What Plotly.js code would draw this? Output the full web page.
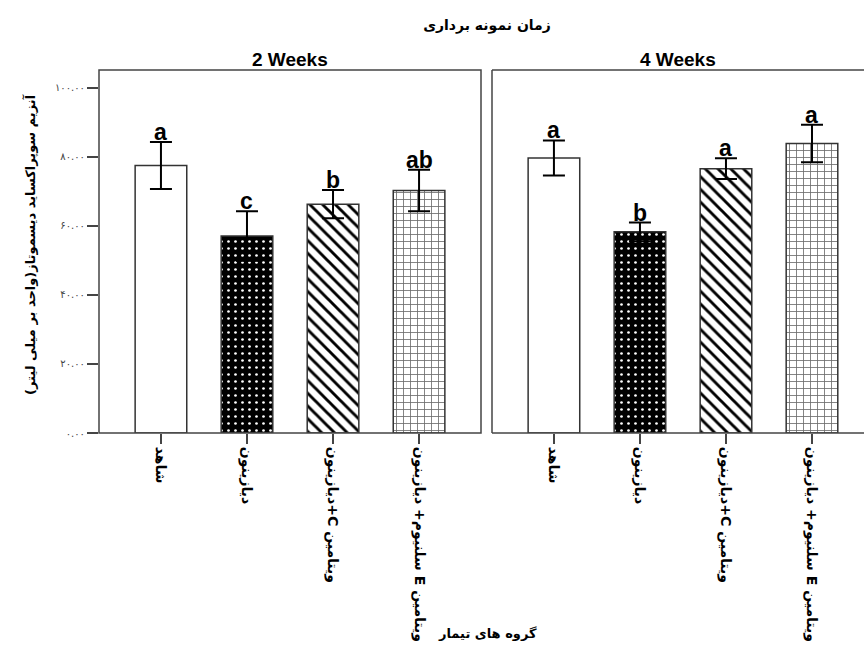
<!DOCTYPE html>
<html>
<head>
<meta charset="utf-8">
<script src="https://cdn.plot.ly/plotly-3.0.1.min.js"></script>
<style>html,body{margin:0;padding:0;background:#fff;overflow:hidden;}#chart{width:864px;height:648px;}#edge{position:absolute;left:858px;top:73px;width:6px;height:358px;background:#fff;pointer-events:none;}</style>
</head>
<body>
<div id="chart"></div>
<div id="edge"></div>
<script>
// ---- data ----
const categories = ['شاهد', 'دیازینون', 'ویتامین C+دیازینون', 'ویتامین E سلنیوم+ دیازینون'];
const week2Means = [77.5, 57.1, 66.3, 70.3];
const week2Errors = [6.8, 7.2, 4.1, 6.0];
const week2Letters = ['a', 'c', 'b', 'ab'];
const week4Means = [79.7, 58.3, 76.6, 83.9];
const week4Errors = [5.1, 2.7, 3.0, 5.4];
const week4Letters = ['a', 'b', 'a', 'a'];
const yTickValues = [0, 20, 40, 60, 80, 100];
const yTickLabels = ['۰.۰۰', '۲۰.۰۰', '۴۰.۰۰', '۶۰.۰۰', '۸۰.۰۰', '۱۰۰.۰۰'];
const panelTitles = ['2 Weeks', '4 Weeks'];
const mainTitle = 'زمان نمونه برداری';
const xTitle = 'گروه های تیمار';
const yTitle = 'آنزیم سوپراکساید دیسموتاز(واحد بر میلی لیتر)';

// ---- styles ----
const RLE = '\u202B', PDF = '\u202C';
const rtl = s => RLE + s + PDF;
const faFont = 'DejaVu Sans, Liberation Sans, sans-serif';
const latFont = 'Liberation Sans, Arial, sans-serif';
const pattern = {
  shape: ['', '.', '\\', '+'],
  fgcolor: ['#ffffff', '#ffffff', '#000000', '#6a6a6a'],
  bgcolor: ['#ffffff', '#000000', '#ffffff', '#ffffff'],
  size: [8, 7, 9, 7],
  solidity: [0.3, 0.12, 0.32, 0.22],
  fillmode: 'replace'
};
const lineColor = '#444444';

function barTrace(means, errs, xa, ya) {
  return {
    type: 'bar', x: categories, y: means, xaxis: xa, yaxis: ya,
    width: 0.6,
    marker: { color: '#ffffff', line: { color: '#333333', width: 1.5 }, pattern: pattern },
    error_y: { type: 'data', array: errs, visible: true, color: '#000000', thickness: 2, width: 11 },
    showlegend: false, hoverinfo: 'skip'
  };
}

const traces = [
  barTrace(week2Means, week2Errors, 'x', 'y'),
  barTrace(week4Means, week4Errors, 'x2', 'y2')
];

// geometry (pixels)
const W = 864, H = 648, mL = 99, mR = 0, mT = 70, mB = 215;
const pw = W - mL - mR, ph = H - mT - mB;
const d1 = [0, (481 - mL) / pw];
const d2 = [(492 - mL) / pw, 1];

const annotations = [];
function letterAnn(means, errs, letters, xr, yr) {
  means.forEach((m, i) => {
    annotations.push({
      x: categories[i], y: m + errs[i], xref: xr, yref: yr,
      text: letters[i], showarrow: false, xanchor: 'center', yanchor: 'bottom', yshift: -5,
      font: { family: latFont, size: 23, color: '#000', weight: 'bold' }
    });
  });
}
letterAnn(week2Means, week2Errors, week2Letters, 'x', 'y');
letterAnn(week4Means, week4Errors, week4Letters, 'x2', 'y2');

const titleY = (mT + ph - 60) / ph;
annotations.push({
  x: (d1[0] + d1[1]) / 2, y: titleY, xref: 'paper', yref: 'paper', xanchor: 'center', yanchor: 'middle',
  text: '<b>' + panelTitles[0] + '</b>', showarrow: false,
  font: { family: latFont, size: 19, color: '#000' }
});
annotations.push({
  x: (d2[0] + d2[1]) / 2, y: titleY, xref: 'paper', yref: 'paper', xanchor: 'center', yanchor: 'middle',
  text: '<b>' + panelTitles[1] + '</b>', showarrow: false,
  font: { family: latFont, size: 19, color: '#000' }
});
annotations.push({
  x: (487 - mL) / pw, y: (mT + ph - 633) / ph, xref: 'paper', yref: 'paper', xanchor: 'center', yanchor: 'middle',
  text: '<b>' + rtl(xTitle) + '</b>', showarrow: false,
  font: { family: faFont, size: 13, color: '#000' }
});
annotations.push({
  x: (30 - mL) / pw, y: (mT + ph - 245) / ph, xref: 'paper', yref: 'paper', xanchor: 'center', yanchor: 'middle',
  text: '<b>' + rtl(yTitle) + '</b>', showarrow: false, textangle: -90,
  font: { family: faFont, size: 13, color: '#000' }
});

// panel frames (panel 2 is open on the right, cut by the image edge)
const frameLine = { color: lineColor, width: 1.5 };
const shapes = [
  { type: 'rect', xref: 'paper', yref: 'paper', x0: d1[0], x1: d1[1], y0: 0, y1: 1, line: frameLine, layer: 'above' },
  { type: 'line', xref: 'paper', yref: 'paper', x0: d2[0], x1: 1, y0: 0, y1: 0, line: frameLine, layer: 'above' },
  { type: 'line', xref: 'paper', yref: 'paper', x0: d2[0], x1: 1, y0: 1, y1: 1, line: frameLine, layer: 'above' },
  { type: 'line', xref: 'paper', yref: 'paper', x0: d2[0], x1: d2[0], y0: 0, y1: 1, line: frameLine, layer: 'above' }
];

const xCommon = {
  type: 'category', tickvals: categories, ticktext: categories.map(c => '<b>' + rtl(c) + '</b>'),
  tickangle: 90, ticks: 'outside', ticklen: 10, tickwidth: 1.5, tickcolor: lineColor,
  tickfont: { family: faFont, size: 14, color: '#000' },
  showline: false, showgrid: false, zeroline: false, fixedrange: true
};

const layout = {
  width: W, height: H,
  margin: { l: mL, r: mR, t: mT, b: mB, pad: 0 },
  title: {
    text: '<b>' + rtl(mainTitle) + '</b>', xref: 'container', yref: 'container',
    x: 487 / W, y: 1 - 25 / H, xanchor: 'center', yanchor: 'middle',
    font: { family: faFont, size: 14, color: '#000' }
  },
  xaxis: Object.assign({}, xCommon, { domain: d1, anchor: 'y', range: [-0.72, 3.72] }),
  xaxis2: Object.assign({}, xCommon, { domain: d2, anchor: 'y2', range: [-0.72, (864 - 554) / 86] }),
  yaxis: {
    domain: [0, 1], anchor: 'x', range: [0, 105.2],
    tickvals: yTickValues, ticktext: yTickLabels,
    ticks: 'outside', ticklen: 11, tickwidth: 1.5, tickcolor: lineColor,
    tickfont: { family: faFont, size: 10, color: '#444444' },
    showline: false, showgrid: false, zeroline: false, fixedrange: true
  },
  yaxis2: {
    domain: [0, 1], anchor: 'x2', range: [0, 105.2],
    showticklabels: false, ticks: '',
    showline: false, showgrid: false, zeroline: false, fixedrange: true
  },
  shapes: shapes,
  annotations: annotations,
  bargap: 0.4
};

Plotly.newPlot('chart', traces, layout, { displayModeBar: false, staticPlot: true });
</script>
</body>
</html>
